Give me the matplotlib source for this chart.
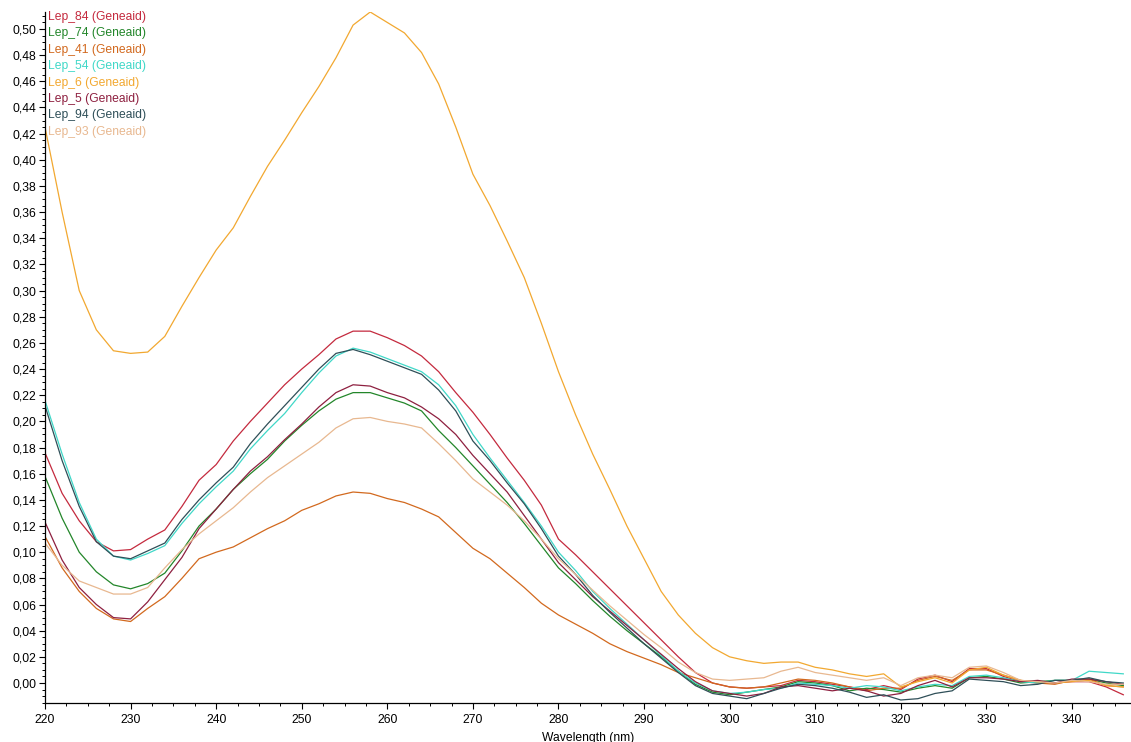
import matplotlib

matplotlib.use("Agg")
import matplotlib.pyplot as plt
from matplotlib.ticker import MultipleLocator, FuncFormatter

plt.rcParams["font.family"] = ["Liberation Sans", "DejaVu Sans"]

# wavelength grid (nm)
wavelength = [220, 222, 224, 226, 228, 230, 232, 234, 236, 238,
              240, 242, 244, 246, 248, 250, 252, 254, 256, 258,
              260, 262, 264, 266, 268, 270, 272, 274, 276, 278,
              280, 282, 284, 286, 288, 290, 292, 294, 296, 298,
              300, 302, 304, 306, 308, 310, 312, 314, 316, 318,
              320, 322, 324, 326, 328, 330, 332, 334, 336, 338,
              340, 342, 344, 346]

lep_84 = [0.176, 0.145, 0.124, 0.108, 0.101, 0.102, 0.110, 0.117, 0.135, 0.155,
          0.167, 0.185, 0.200, 0.214, 0.228, 0.240, 0.251, 0.263, 0.269, 0.269,
          0.264, 0.258, 0.250, 0.238, 0.222, 0.207, 0.190, 0.172, 0.155, 0.136,
          0.110, 0.098, 0.085, 0.072, 0.059, 0.046, 0.033, 0.020, 0.008, 0.000,
          -0.003, -0.004, -0.003, -0.002, 0.002, 0.001, -0.001, -0.003, -0.005, -0.002,
          -0.005, 0.003, 0.006, 0.001, 0.011, 0.011, 0.005, 0.001, 0.000, 0.000,
          0.001, 0.001, -0.003, -0.009]

lep_74 = [0.158, 0.126, 0.100, 0.085, 0.075, 0.072, 0.076, 0.084, 0.101, 0.120,
          0.133, 0.148, 0.160, 0.171, 0.185, 0.197, 0.208, 0.217, 0.222, 0.222,
          0.218, 0.214, 0.208, 0.193, 0.180, 0.166, 0.152, 0.138, 0.122, 0.105,
          0.088, 0.076, 0.063, 0.051, 0.040, 0.030, 0.020, 0.009, -0.001, -0.007,
          -0.009, -0.007, -0.005, -0.003, 0.001, 0.000, -0.002, -0.006, -0.004, -0.005,
          -0.007, -0.004, -0.002, -0.004, 0.004, 0.005, 0.003, 0.000, 0.001, 0.002,
          0.002, 0.003, 0.000, -0.002]

lep_41 = [0.112, 0.088, 0.070, 0.057, 0.049, 0.047, 0.057, 0.066, 0.080, 0.095,
          0.100, 0.104, 0.111, 0.118, 0.124, 0.132, 0.137, 0.143, 0.146, 0.145,
          0.141, 0.138, 0.133, 0.127, 0.115, 0.103, 0.095, 0.084, 0.073, 0.061,
          0.052, 0.045, 0.038, 0.030, 0.024, 0.019, 0.014, 0.008, 0.004, 0.000,
          -0.003, -0.004, -0.003, 0.000, 0.003, 0.002, 0.000, -0.003, -0.006, -0.004,
          -0.004, 0.002, 0.005, 0.002, 0.010, 0.010, 0.006, 0.002, 0.000, -0.001,
          0.002, 0.003, -0.002, -0.003]

lep_54 = [0.216, 0.175, 0.138, 0.110, 0.097, 0.094, 0.099, 0.105, 0.122, 0.137,
          0.150, 0.162, 0.179, 0.193, 0.206, 0.222, 0.237, 0.250, 0.256, 0.253,
          0.248, 0.243, 0.238, 0.228, 0.212, 0.190, 0.172, 0.155, 0.138, 0.120,
          0.100, 0.086, 0.070, 0.057, 0.045, 0.033, 0.021, 0.009, 0.000, -0.006,
          -0.008, -0.007, -0.005, -0.004, 0.000, -0.001, -0.002, -0.004, -0.002, -0.003,
          -0.006, -0.003, -0.001, -0.002, 0.005, 0.006, 0.004, 0.001, 0.000, 0.002,
          0.002, 0.009, 0.008, 0.007]

lep_6 = [0.425, 0.360, 0.300, 0.270, 0.254, 0.252, 0.253, 0.265, 0.288, 0.310,
         0.331, 0.348, 0.372, 0.395, 0.415, 0.436, 0.456, 0.478, 0.503, 0.513,
         0.505, 0.497, 0.482, 0.458, 0.425, 0.389, 0.365, 0.338, 0.310, 0.275,
         0.238, 0.205, 0.175, 0.148, 0.120, 0.095, 0.070, 0.052, 0.038, 0.027,
         0.020, 0.017, 0.015, 0.016, 0.016, 0.012, 0.010, 0.007, 0.005, 0.007,
         -0.003, 0.001, 0.004, 0.000, 0.010, 0.012, 0.006, 0.002, 0.001, 0.000,
         0.001, 0.002, -0.002, -0.003]

lep_5 = [0.123, 0.094, 0.073, 0.060, 0.050, 0.049, 0.062, 0.079, 0.096, 0.118,
         0.133, 0.148, 0.162, 0.173, 0.186, 0.198, 0.211, 0.222, 0.228, 0.227,
         0.222, 0.218, 0.211, 0.202, 0.190, 0.174, 0.160, 0.146, 0.128, 0.110,
         0.092, 0.079, 0.066, 0.055, 0.044, 0.033, 0.022, 0.011, 0.001, -0.006,
         -0.008, -0.010, -0.008, -0.003, -0.002, -0.004, -0.006, -0.004, -0.006, -0.010,
         -0.008, -0.002, 0.002, -0.003, 0.004, 0.004, 0.003, 0.001, 0.002, 0.000,
         0.003, 0.003, 0.001, -0.001]

lep_94 = [0.212, 0.170, 0.135, 0.108, 0.097, 0.095, 0.101, 0.107, 0.125, 0.140,
          0.153, 0.165, 0.183, 0.198, 0.212, 0.226, 0.240, 0.252, 0.255, 0.251,
          0.246, 0.241, 0.236, 0.224, 0.208, 0.185, 0.170, 0.153, 0.137, 0.118,
          0.097, 0.083, 0.067, 0.054, 0.042, 0.030, 0.019, 0.008, -0.002, -0.008,
          -0.010, -0.012, -0.008, -0.004, -0.001, -0.002, -0.004, -0.007, -0.011, -0.009,
          -0.013, -0.012, -0.008, -0.006, 0.003, 0.002, 0.001, -0.002, -0.001, 0.002,
          0.002, 0.004, 0.001, 0.000]

lep_93 = [0.107, 0.090, 0.078, 0.073, 0.068, 0.068, 0.073, 0.088, 0.102, 0.114,
          0.124, 0.134, 0.146, 0.157, 0.166, 0.175, 0.184, 0.195, 0.202, 0.203,
          0.200, 0.198, 0.195, 0.183, 0.170, 0.156, 0.146, 0.136, 0.124, 0.110,
          0.095, 0.083, 0.071, 0.059, 0.048, 0.037, 0.027, 0.016, 0.008, 0.003,
          0.002, 0.003, 0.004, 0.009, 0.012, 0.008, 0.006, 0.004, 0.002, 0.004,
          -0.002, 0.004, 0.006, 0.004, 0.012, 0.013, 0.008, 0.002, 0.001, 0.000,
          0.002, 0.001, -0.001, -0.001]

series = [
    ("Lep_84 (Geneaid)", lep_84, "#c42a3e"),
    ("Lep_74 (Geneaid)", lep_74, "#23862a"),
    ("Lep_41 (Geneaid)", lep_41, "#d2691e"),
    ("Lep_54 (Geneaid)", lep_54, "#40d8c8"),
    ("Lep_6 (Geneaid)", lep_6, "#f2a830"),
    ("Lep_5 (Geneaid)", lep_5, "#8e2040"),
    ("Lep_94 (Geneaid)", lep_94, "#2f4f58"),
    ("Lep_93 (Geneaid)", lep_93, "#e8b890"),
]

W, H = 1131, 742
fig = plt.figure(figsize=(W / 100, H / 100), dpi=100)
ax = fig.add_axes([45 / W, 39 / H, (W - 45) / W, (703 - 12) / H])

for name, vals, col in series:
    ax.plot(wavelength, vals, color=col, lw=0.9)

ax.set_xlim(220, 346.9)
ax.set_ylim(-0.0153, 0.513)

for s in ("top", "right"):
    ax.spines[s].set_visible(False)
ax.spines["left"].set_linewidth(0.9)
ax.spines["bottom"].set_linewidth(0.9)

ax.xaxis.set_major_locator(MultipleLocator(10))
ax.xaxis.set_minor_locator(MultipleLocator(2.5))
ax.yaxis.set_major_locator(MultipleLocator(0.02))
ax.yaxis.set_minor_locator(MultipleLocator(0.005))
ax.yaxis.set_major_formatter(FuncFormatter(lambda v, p: f"{v:.2f}".replace(".", ",").replace("-0,00", "0,00")))
ax.tick_params(which="major", direction="out", length=4, width=0.8, labelsize=8.7)
ax.tick_params(axis="x", which="major", pad=4)
ax.tick_params(axis="y", which="major", pad=2)
ax.tick_params(which="minor", direction="out", length=2, width=0.7)

ax.set_xlabel("Wavelength (nm)", fontsize=8.7, labelpad=4)

for i, (name, vals, col) in enumerate(series):
    fig.text(48 / W, 1 - (17 + i * 16.4) / H, name, color=col, fontsize=8.7,
             ha="left", va="center")

fig.savefig("out.png", dpi=100)
